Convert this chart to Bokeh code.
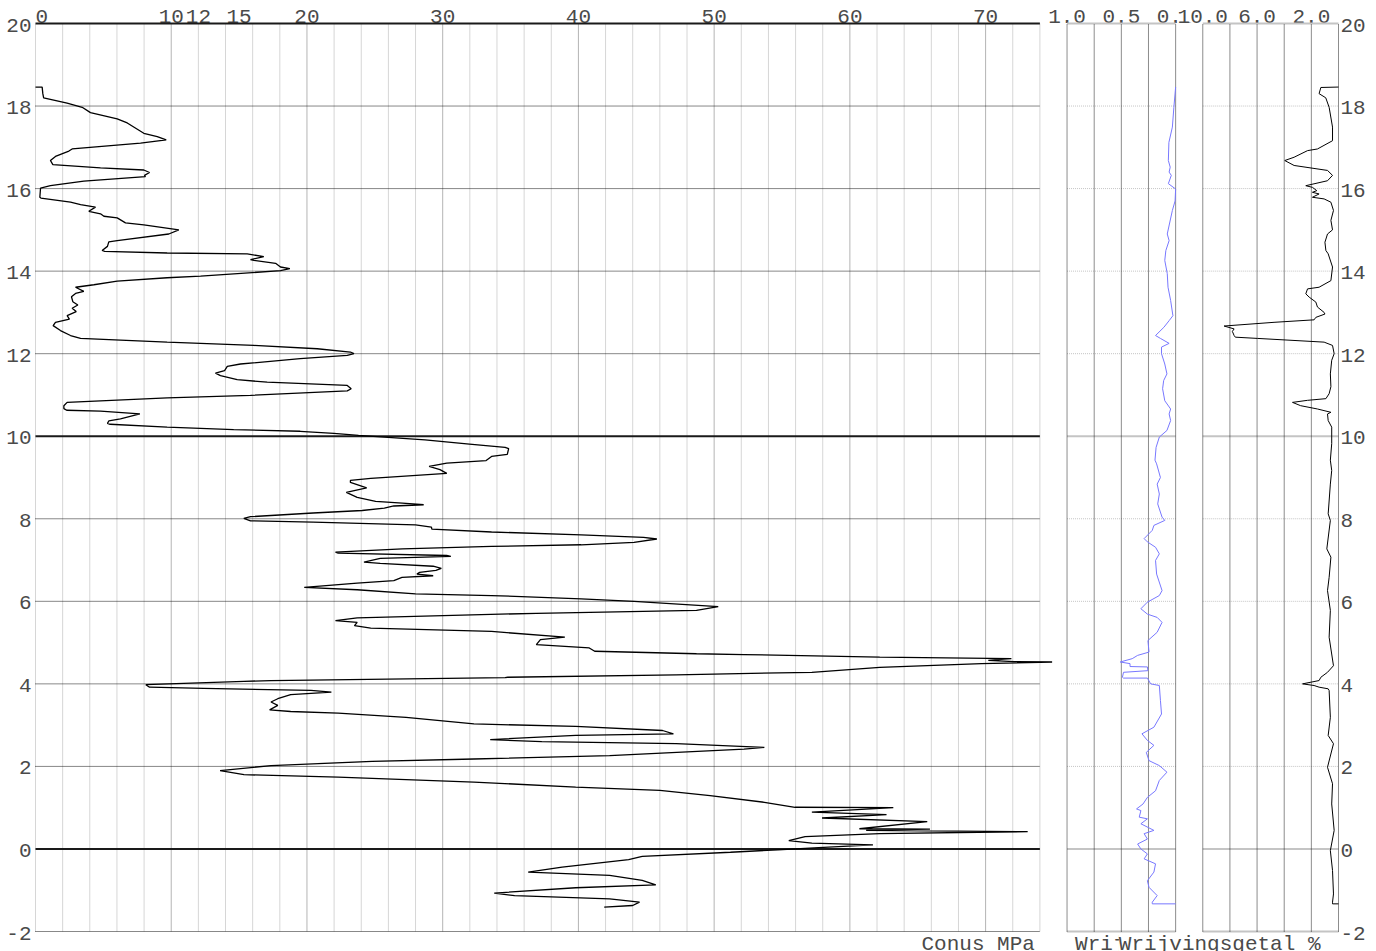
from bokeh.plotting import figure
from bokeh.models import Range1d, Label
from bokeh.embed import file_html
from bokeh.resources import INLINE

# ---------------- axes / ticks ----------------
depth_ticks = [-2, 0, 2, 4, 6, 8, 10, 12, 14, 16, 18, 20]
depth_major = [0, 10]
conus_grid = list(range(0, 76, 2))
conus_major = [10, 20, 30, 40, 50, 60, 70]
conus_labels = [0, 10, 12, 15, 20, 30, 40, 50, 60, 70]
fric_grid = [1.0, 0.75, 0.5, 0.25, 0.0]
fric_labels = [1.0, 0.5, 0.0]
rf_grid = [10, 8, 6, 4, 2, 0]
rf_labels = [10.0, 6.0, 2.0]

# ---------------- data ----------------
conus_depth = [18.46, 18.46, 18.30, 18.20, 18.07, 17.97, 17.84, 17.69, 17.59, 17.34, 17.26, 17.18, 17.10,
               16.96, 16.91, 16.78, 16.68, 16.58, 16.50, 16.45, 16.39, 16.32, 16.29, 16.18, 16.07, 16.01,
               15.79, 15.77, 15.67, 15.61, 15.55, 15.45, 15.39, 15.33, 15.29, 15.17, 15.12, 15.00, 14.90,
               14.74, 14.71, 14.60, 14.50, 14.48, 14.44, 14.42, 14.35, 14.28, 14.26, 14.19, 14.10, 14.06,
               14.01, 13.88, 13.84, 13.76, 13.67, 13.61, 13.51, 13.46, 13.38, 13.26, 13.18, 13.10, 13.02,
               12.92, 12.84, 12.76, 12.68, 12.56, 12.44, 12.37, 12.33, 12.28, 12.20, 12.12, 12.04, 12.00,
               11.96, 11.88, 11.75, 11.69, 11.59, 11.53, 11.47, 11.37, 11.31, 11.23, 11.15, 11.10, 10.99,
               10.93, 10.82, 10.74, 10.67, 10.63, 10.61, 10.54, 10.42, 10.37, 10.31, 10.29, 10.22, 10.16,
               10.12, 10.07, 10.02, 9.91, 9.81, 9.73, 9.70, 9.56, 9.51, 9.41, 9.35, 9.27, 9.19, 9.10, 8.98,
               8.93, 8.88, 8.75, 8.64, 8.52, 8.42, 8.38, 8.34, 8.31, 8.26, 8.20, 8.14, 8.05, 8.01, 7.95,
               7.92, 7.85, 7.80, 7.75, 7.68, 7.61, 7.55, 7.51, 7.43, 7.37, 7.33, 7.27, 7.19, 7.17, 7.11,
               7.09, 7.04, 6.95, 6.92, 6.85, 6.80, 6.75, 6.70, 6.66, 6.62, 6.58, 6.50, 6.44, 6.34, 6.28,
               6.18, 6.14, 6.06, 6.00, 5.87, 5.78, 5.71, 5.60, 5.53, 5.49, 5.41, 5.35, 5.27, 5.13, 5.07,
               4.95, 4.87, 4.79, 4.73, 4.71, 4.65, 4.61, 4.57, 4.54, 4.53, 4.49, 4.40, 4.28, 4.22, 4.16,
               4.15, 4.08, 4.06, 3.98, 3.92, 3.89, 3.84, 3.80, 3.74, 3.64, 3.56, 3.48, 3.37, 3.33, 3.29,
               3.19, 3.03, 2.97, 2.87, 2.79, 2.75, 2.65, 2.60, 2.55, 2.46, 2.42, 2.26, 2.18, 2.12, 2.02,
               1.90, 1.80, 1.74, 1.62, 1.50, 1.42, 1.29, 1.13, 1.01, 1.00, 0.89, 0.83, 0.75, 0.66, 0.49,
               0.48, 0.45, 0.42, 0.37, 0.30, 0.20, 0.14, 0.10, 0.03, -0.02, -0.08, -0.18, -0.26, -0.44,
               -0.56, -0.64, -0.76, -0.87, -0.94, -1.07, -1.13, -1.21, -1.29, -1.37, -1.41]
conus_value = [0.0, 0.49, 0.54, 0.60, 2.33, 3.44, 4.05, 6.02, 6.76, 7.98, 8.97, 9.63, 7.74,
               2.70, 2.46, 1.47, 1.10, 1.28, 4.79, 7.98, 8.40, 8.03, 8.10, 3.56, 1.10, 0.37,
               0.32, 0.40, 2.58, 3.32, 4.42, 3.93, 4.79, 5.04, 6.02, 6.63, 7.98, 10.56, 9.82,
               6.02, 5.40, 5.30, 4.91, 5.10, 9.70, 15.60, 16.82, 15.84, 16.09, 17.69, 18.05, 18.74,
               18.05, 12.16, 9.70, 6.02, 4.30, 2.95, 3.56, 2.95, 2.65, 2.75, 3.12, 2.70, 3.00,
               2.33, 2.50, 1.47, 1.30, 1.84, 2.58, 3.32, 6.26, 9.70, 16.09, 20.76, 23.20, 23.46,
               22.97, 19.50, 15.10, 14.13, 13.93, 13.26, 13.63, 14.86, 17.07, 22.97, 23.26, 22.97, 15.84,
               9.70, 2.33, 2.09, 2.09, 2.30, 4.79, 7.69, 6.26, 5.40, 5.30, 5.50, 9.70, 14.60,
               19.50, 21.98, 23.80, 28.70, 31.97, 34.60, 34.86, 34.76, 33.60, 33.20, 30.30, 29.00, 29.80, 30.30, 24.70,
               23.20, 23.20, 24.40, 22.90, 23.70, 25.06, 27.03, 28.60, 26.40, 25.70, 24.07, 20.45, 15.84, 15.35, 15.84,
               20.45, 28.00, 29.17, 29.20, 33.60, 40.20, 44.80, 45.78, 44.10, 40.20, 33.60, 27.03, 22.10, 22.30, 30.30,
               30.60, 25.40, 24.20, 25.40, 29.30, 29.90, 29.50, 28.30, 28.10, 29.30, 27.00, 26.40, 23.70, 19.80, 23.70,
               28.00, 33.60, 40.20, 44.10, 50.30, 48.70, 36.90, 23.70, 22.10, 23.70, 23.50, 24.70, 33.60, 39.00, 37.20,
               36.90, 40.80, 41.20, 48.70, 52.20, 62.20, 71.90, 70.20, 72.10, 74.90, 69.70, 62.20, 57.20, 47.20, 34.80,
               34.60, 17.35, 15.36, 8.13, 8.40, 12.40, 20.30, 21.80, 18.80, 17.85, 17.35, 17.85, 17.25, 18.80, 22.30,
               27.30, 32.30, 39.80, 46.20, 47.00, 39.80, 33.50, 37.30, 47.20, 53.70, 52.20, 42.30, 32.30, 24.80, 17.35,
               13.60, 15.36, 22.30, 32.30, 39.80, 46.00, 49.70, 53.70, 55.96, 63.20, 57.20, 62.70, 57.95, 65.70, 60.70,
               65.90, 61.20, 73.10, 62.20, 56.70, 55.50, 57.20, 61.70, 57.70, 54.70, 51.20, 44.70, 43.70, 38.80,
               36.30, 42.30, 44.70, 45.70, 39.80, 33.80, 35.30, 42.30, 44.50, 44.00, 41.90]

fric_depth = [18.46, 17.97, 17.49, 17.12, 16.68, 16.52, 16.40, 16.32, 16.12, 15.99, 15.70, 15.47, 14.90,
              14.74, 14.50, 14.26, 13.94, 13.61, 13.29, 12.92, 12.80, 12.64, 12.44, 12.37, 12.25, 12.16,
              12.00, 11.75, 11.51, 11.35, 11.15, 10.86, 10.66, 10.54, 10.38, 10.14, 9.98, 9.73, 9.42,
              9.33, 9.00, 8.84, 8.60, 8.36, 8.04, 7.96, 7.84, 7.72, 7.52, 7.44, 7.31, 7.15, 6.99, 6.66,
              6.26, 6.14, 5.98, 5.82, 5.69, 5.61, 5.49, 5.25, 5.05, 4.77, 4.69, 4.61, 4.53, 4.49, 4.42,
              4.41, 4.32, 4.28, 4.16, 4.14, 4.14, 4.00, 3.96, 3.60, 3.27, 2.95, 2.79, 2.63, 2.51, 2.34,
              2.14, 2.02, 1.86, 1.66, 1.41, 1.25, 1.09, 0.97, 0.93, 0.77, 0.73, 0.61, 0.45, 0.37, 0.24,
              0.12, 0.00, -0.12, -0.24, -0.36, -0.56, -0.77, -0.93, -1.13, -1.29, -1.33, -1.33]
fric_value = [0.0, 0.016, 0.03, 0.062, 0.067, 0.05, 0.06, 0.04, 0.067, 0.0, 0.005, 0.03, 0.077,
              0.06, 0.09, 0.10, 0.077, 0.07, 0.046, 0.025, 0.06, 0.108, 0.185, 0.14, 0.06, 0.13,
              0.13, 0.10, 0.08, 0.11, 0.12, 0.10, 0.046, 0.06, 0.046, 0.08, 0.15, 0.18, 0.19,
              0.175, 0.14, 0.17, 0.15, 0.165, 0.125, 0.10, 0.20, 0.215, 0.29, 0.26, 0.185, 0.15, 0.185, 0.175,
              0.125, 0.15, 0.26, 0.32, 0.26, 0.17, 0.125, 0.17, 0.255, 0.245, 0.35, 0.40, 0.51, 0.42, 0.42,
              0.26, 0.255, 0.48, 0.49, 0.48, 0.26, 0.23, 0.15, 0.14, 0.13, 0.20, 0.31, 0.26, 0.20, 0.27,
              0.245, 0.15, 0.08, 0.15, 0.185, 0.26, 0.30, 0.36, 0.32, 0.335, 0.26, 0.32, 0.20, 0.29, 0.26,
              0.35, 0.32, 0.26, 0.29, 0.185, 0.20, 0.26, 0.245, 0.17, 0.215, 0.215, 0.0]

rf_depth = [18.46, 18.45, 18.30, 18.20, 17.97, 17.49, 17.16, 16.96, 16.92, 16.76, 16.68, 16.56, 16.44,
            16.32, 16.19, 16.07, 16.03, 15.95, 15.91, 15.87, 15.79, 15.75, 15.67, 15.47, 15.23, 15.00,
            14.90, 14.70, 14.50, 14.42, 14.10, 13.77, 13.61, 13.57, 13.45, 13.37, 13.25, 13.13, 13.00,
            12.96, 12.88, 12.82, 12.76, 12.67, 12.60, 12.54, 12.44, 12.40, 12.37, 12.28, 12.20, 12.00,
            11.84, 11.51, 11.20, 11.03, 10.91, 10.87, 10.82, 10.74, 10.66, 10.58, 10.54, 10.38, 10.22,
            9.82, 9.42, 9.17, 8.84, 8.12, 7.96, 7.27, 7.07, 6.58, 6.26, 5.78, 5.13, 4.44, 4.28, 4.16,
            4.08, 4.00, 3.96, 3.92, 3.88, 3.84, 3.19, 2.75, 2.55, 1.98, 1.58, 1.09, 0.45, -0.04, -0.52,
            -1.09, -1.29, -1.33, -1.33]
rf_value = [0.0, 1.30, 1.43, 0.94, 0.69, 0.44, 0.44, 1.55, 2.28, 3.27, 3.96, 3.27, 0.81,
            0.44, 0.81, 2.41, 1.92, 1.60, 1.92, 1.43, 1.92, 1.06, 0.56, 0.37, 0.56, 0.44,
            0.81, 1.00, 0.93, 0.76, 0.44, 0.56, 1.43, 2.28, 2.41, 2.16, 1.67, 1.55, 1.06,
            1.00, 1.67, 1.80, 4.75, 8.43, 7.69, 7.82, 7.69, 7.60, 5.97, 1.06, 0.44, 0.32,
            0.50, 0.60, 0.56, 0.69, 0.93, 2.28, 3.39, 2.79, 1.55, 0.56, 0.81, 0.76, 0.50,
            0.50, 0.60, 0.50, 0.60, 0.76, 0.60, 0.86, 0.56, 0.69, 0.81, 0.60, 0.69, 0.37, 0.81, 1.30,
            1.43, 2.65, 1.80, 1.43, 0.76, 0.69, 0.60, 0.76, 0.37, 0.81, 0.44, 0.50, 0.32, 0.60, 0.44,
            0.37, 0.44, 0.44, 0.0]

# ---------------- layout (pixels) ----------------
FIG_W, FIG_H = 1376, 951
PANEL_L_PX, PANEL_R_PX = 35, 1338      # x pixels of layout units 0 and 96
PANEL_T_PX, PANEL_B_PX = 23, 931       # y pixels of depth 20 and -2
LAYOUT_END = 96                        # layout x-units spanned by the three panels
CONUS_END = 74                         # conus panel: 0..74
FRIC_L, FRIC_R = 76, 84                # friction panel position in layout units
RF_L, RF_R = 86, 96                    # friction-ratio panel position in layout units

ppx = (PANEL_R_PX - PANEL_L_PX) / LAYOUT_END
x0 = -PANEL_L_PX / ppx
x1 = (FIG_W - PANEL_L_PX) / ppx
ppy = (PANEL_B_PX - PANEL_T_PX) / (depth_ticks[-1] - depth_ticks[0])
y_top = depth_ticks[-1] + PANEL_T_PX / ppy
y_bot = depth_ticks[0] - (FIG_H - PANEL_B_PX) / ppy


def fric_of(u):
    return fric_grid[0] + (u - FRIC_L) * (fric_grid[-1] - fric_grid[0]) / (FRIC_R - FRIC_L)


def rf_of(u):
    return rf_grid[0] + (u - RF_L) * (rf_grid[-1] - rf_grid[0]) / (RF_R - RF_L)


FONT = "Liberation Mono"
FSIZE = "21px"
TCOL = "#4a4a4a"

p = figure(width=FIG_W, height=FIG_H, x_range=Range1d(x0, x1), y_range=Range1d(y_bot, y_top),
           x_axis_location=None, y_axis_location=None, toolbar_location=None,
           output_backend="svg", min_border=0, min_border_left=0, min_border_right=0,
           min_border_top=0, min_border_bottom=0)
p.extra_x_ranges = {"fric": Range1d(fric_of(x0), fric_of(x1)), "rf": Range1d(rf_of(x0), rf_of(x1))}
p.outline_line_color = None
p.xgrid.visible = False
p.ygrid.visible = False
p.background_fill_color = "white"
p.border_fill_color = "white"

ybot, ytop = depth_ticks[0], depth_ticks[-1]

# ---------- left panel grid ----------
minor_v = [v for v in conus_grid if v not in conus_major]
p.segment(x0=minor_v, x1=minor_v, y0=[ybot] * len(minor_v), y1=[ytop] * len(minor_v),
          line_color="#d6d6d6", line_width=1)
p.segment(x0=conus_major, x1=conus_major, y0=[ybot] * len(conus_major),
          y1=[ytop] * len(conus_major), line_color="#b4b4b4", line_width=1)
dotted_h = [d for d in depth_ticks if d not in depth_major and d != ytop]
p.segment(x0=[0] * len(dotted_h), x1=[CONUS_END] * len(dotted_h), y0=dotted_h, y1=dotted_h,
          line_color="#111111", line_width=1, line_dash="1 1")
solid_h = depth_major + [ytop]
p.segment(x0=[0] * len(solid_h), x1=[CONUS_END] * len(solid_h), y0=solid_h, y1=solid_h,
          line_color="#1a1a1a", line_width=2)

# ---------- middle & right panel grids ----------
for rng, grid in (("fric", fric_grid), ("rf", rf_grid)):
    lo, hi = grid[0], grid[-1]
    light_dot = [d for d in depth_ticks if d not in (depth_major + [ybot, ytop])]
    light_solid = depth_major + [ybot, ytop]
    p.segment(x0=[lo] * len(light_dot), x1=[hi] * len(light_dot), y0=light_dot, y1=light_dot,
              line_color="#c4c4c4", line_width=1, line_dash="1 1", x_range_name=rng)
    p.segment(x0=[lo] * len(light_solid), x1=[hi] * len(light_solid), y0=light_solid, y1=light_solid,
              line_color="#c4c4c4", line_width=2, x_range_name=rng)
    p.segment(x0=grid, x1=grid, y0=[ybot] * len(grid), y1=[ytop] * len(grid),
              line_color="#1a1a1a", line_width=1, line_dash="1 1", x_range_name=rng)

# ---------- data lines ----------
p.line(x=conus_value, y=conus_depth, line_color="black", line_width=1.3)
p.line(x=fric_value, y=fric_depth, line_color="#7878ff", line_width=1, x_range_name="fric")
p.line(x=rf_value, y=rf_depth, line_color="black", line_width=1, x_range_name="rf")


def lab(text, x, y, rng="default", align="center", baseline="alphabetic", xo=0, yo=0, bg=None):
    kw = dict(x=x, y=y, text=text, x_range_name=rng, text_align=align, text_baseline=baseline,
              x_offset=xo, y_offset=yo, text_font=FONT, text_font_size=FSIZE, text_color=TCOL,
              level="underlay")
    if bg:
        kw["background_fill_color"] = bg
    p.add_layout(Label(**kw))


# top labels
for i, v in enumerate(conus_labels):
    lab(str(v), v, ytop, align="left" if i == 0 else "center", yo=7.5)
for v in fric_labels:
    lab(f"{v:.1f}", v, ytop, rng="fric", yo=7.5)
for v in rf_labels:
    lab(f"{v:.1f}", v, ytop, rng="rf", yo=7.5, bg="white")

# depth labels
for d in depth_ticks:
    lab(str(d), 0, d, align="right", baseline="middle", xo=-4, yo=-1.5)
    lab(str(d), rf_grid[-1], d, rng="rf", align="left", baseline="middle", xo=2, yo=-1.5)

# bottom titles
lab("Conus MPa", CONUS_END, ybot, align="right", xo=-5, yo=-12.5)
lab("Wrijving MPa", fric_grid[0], ybot, rng="fric", align="left", xo=8, yo=-12.5)
lab("Wrijvingsgetal %", rf_grid[-1], ybot, rng="rf", align="right", xo=-18, yo=-12.5, bg="white")

html = file_html(p, INLINE)
html = html.replace("<head>", "<head><style>html,body{overflow:hidden;margin:0;}</style>", 1)
open("out.html", "w").write(html)
